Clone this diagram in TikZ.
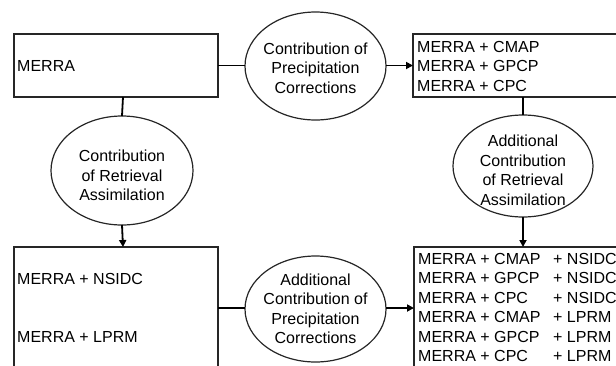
\documentclass[tikz,border=0pt]{standalone}
\usepackage{fontspec}
\setmainfont{Liberation Sans}
\usetikzlibrary{arrows.meta}
\begin{document}
\begin{tikzpicture}[x=1pt,y=-1pt,
  every node/.style={font=\fontsize{16}{19.5}\selectfont},
  boxline/.style={draw=black!85,line width=1.4pt},
  oval/.style={draw=black!85,line width=1.2pt},
  conn/.style={line width=1.8pt},
  arr/.style={conn,-{Triangle[length=7pt,width=7pt]}},
  txt/.style={anchor=west,inner sep=0pt,align=left}]
\useasboundingbox (0,0) rectangle (616,365);
\clip (0,0) rectangle (616,365);
% boxes
\draw[boxline] (14,34) rectangle (218,97);
\coordinate (b1e) at (218,65.5);
\coordinate (b1s) at (123,97);
\draw[boxline] (413,34) rectangle (640,97);
\coordinate (b2w) at (413,65.5);
\coordinate (b2s) at (523,97);
\draw[boxline] (14,247) rectangle (218,400);
\coordinate (b3n) at (123,247);
\coordinate (b3e) at (218,308);
\draw[boxline] (414,247) rectangle (640,400);
\coordinate (b4n) at (523,247);
\coordinate (b4w) at (414,308);
% ellipses
\draw[oval] (315.5,66) ellipse [x radius=70.5,y radius=54];
\coordinate (e1w) at (245,65.5); \coordinate (e1e) at (386,65.5);
\node (e1) at (315.5,68) [align=center,inner sep=0pt] {Contribution of\\Precipitation\\Corrections};
\draw[oval] (122,170.5) ellipse [x radius=71,y radius=54.5];
\coordinate (e2n) at (122,116); \coordinate (e2s) at (122,225);
\node (e2) at (122,175.5) [align=center,inner sep=0pt] {Contribution\\of Retrieval\\Assimilation};
\draw[oval] (523,166) ellipse [x radius=70,y radius=51];
\coordinate (e3n) at (523,115); \coordinate (e3s) at (523,217);
\node (e3) at (523,170.5) [align=center,inner sep=0pt] {Additional\\Contribution\\of Retrieval\\Assimilation};
\draw[oval] (315.5,309) ellipse [x radius=70.5,y radius=53];
\coordinate (e4w) at (245,308); \coordinate (e4e) at (386,308);
\node (e4) at (315.5,309) [align=center,inner sep=0pt] {Additional\\Contribution of\\Precipitation\\Corrections};
% texts
\node[txt] (t1) at (17,66) {MERRA};
\node[txt] (t2) at (417,66) {MERRA + CMAP\\MERRA + GPCP\\MERRA + CPC};
\node[txt] (t3) at (17,279) {MERRA + NSIDC};
\node[txt] (t4) at (17,337) {MERRA + LPRM};
\node[txt] (t5) at (418,307.5) {%
\makebox[135pt][l]{MERRA + CMAP}+ NSIDC\\
\makebox[135pt][l]{MERRA + GPCP}+ NSIDC\\
\makebox[135pt][l]{MERRA + CPC}+ NSIDC\\
\makebox[135pt][l]{MERRA + CMAP}+ LPRM\\
\makebox[135pt][l]{MERRA + GPCP}+ LPRM\\
\makebox[135pt][l]{MERRA + CPC}+ LPRM};
% connectors
\draw[conn] (b1e) -- (e1w);
\draw[arr] (e1e) -- (b2w);
\draw[conn] (b1s) -- (e2n);
\draw[arr] (e2s) -- (b3n);
\draw[conn] (b2s) -- (e3n);
\draw[arr] (e3s) -- (b4n);
\draw[conn] (b3e) -- (e4w);
\draw[arr] (e4e) -- (b4w);
\end{tikzpicture}
\end{document}
